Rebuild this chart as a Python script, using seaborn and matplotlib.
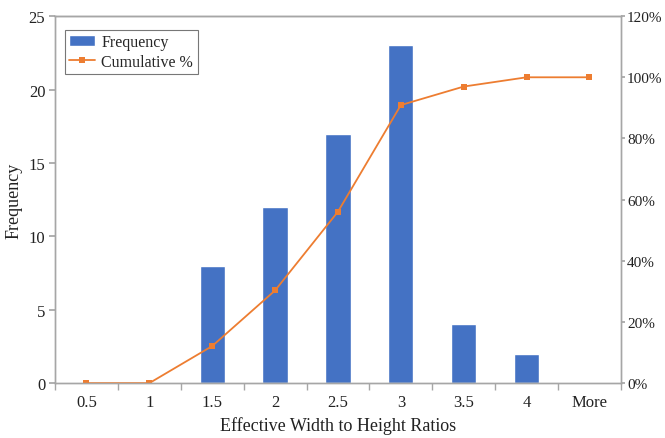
import matplotlib
matplotlib.use("Agg")
import matplotlib.pyplot as plt
import seaborn as sns
import numpy as np
import pandas as pd
from matplotlib.ticker import FixedLocator, PercentFormatter

categories = ["0.5", "1", "1.5", "2", "2.5", "3", "3.5", "4", "More"]
frequency = [0, 0, 8, 12, 17, 23, 4, 2, 0]
cumulative_pct = [0, 0, 12.12, 30.30, 56.06, 90.91, 96.97, 100, 100]

sns.set_theme(style="white")
plt.rcParams['font.family'] = ['Liberation Serif', 'DejaVu Serif']

df = pd.DataFrame({"cat": categories, "freq": frequency, "cum": cumulative_pct})

fig = plt.figure(figsize=(6.65, 4.39), dpi=100)
ax = fig.add_axes([0.0827, 0.125, 0.851, 0.836])
sns.barplot(data=df, x="cat", y="freq", color="#4472C4", saturation=1, width=0.4, ax=ax,
            label="Frequency")
ax2 = ax.twinx()
sns.lineplot(data=df, x="cat", y="cum", color="#ED7D31", marker="s", markersize=4.5,
             markeredgewidth=0, linewidth=1.3, ax=ax2, label="Cumulative %", sort=False)

ax.set_ylim(0, 25)
ax.set_yticks([0, 5, 10, 15, 20, 25])
ax2.set_ylim(0, 120)
ax2.set_yticks([0, 20, 40, 60, 80, 100, 120])
ax2.yaxis.set_major_formatter(PercentFormatter(decimals=0))
ax.set_xlim(-0.5, 8.5)

ax.set_xlabel("Effective Width to Height Ratios", fontsize=13, color="#222222")
ax.set_ylabel("Frequency", fontsize=13, color="#222222")
ax2.set_ylabel("")

gray = "#A6A6A6"
for a in (ax, ax2):
    for s in a.spines.values():
        s.set_color(gray)
        s.set_linewidth(1.0)
ax.spines["top"].set_color("#7F7F7F")

ax.tick_params(axis="x", which="major", length=0, labelsize=12, labelcolor="#222222", pad=8)
ax.xaxis.set_minor_locator(FixedLocator(np.arange(-0.5, 9.0, 1.0)))
ax.tick_params(axis="x", which="minor", length=5, color=gray, bottom=True)
ax.tick_params(axis="y", length=4, color=gray, labelsize=12, labelcolor="#222222", left=True, pad=3)
ax2.tick_params(axis="y", length=3, color=gray, labelsize=11, labelcolor="#222222", right=True, pad=1.5)

h1, l1 = ax.get_legend_handles_labels()
h2, l2 = ax2.get_legend_handles_labels()
if ax2.get_legend():
    ax2.get_legend().remove()
if ax.get_legend():
    ax.get_legend().remove()
leg = ax2.legend(h1 + h2, l1 + l2, loc="upper left", bbox_to_anchor=(0.003, 0.985),
                 fontsize=11.5, frameon=True, fancybox=False, edgecolor="#555555",
                 borderpad=0.3, handlelength=1.6, handletextpad=0.4, labelspacing=0.2)
leg.get_frame().set_linewidth(0.8)

fig.savefig("out.png", dpi=100)
